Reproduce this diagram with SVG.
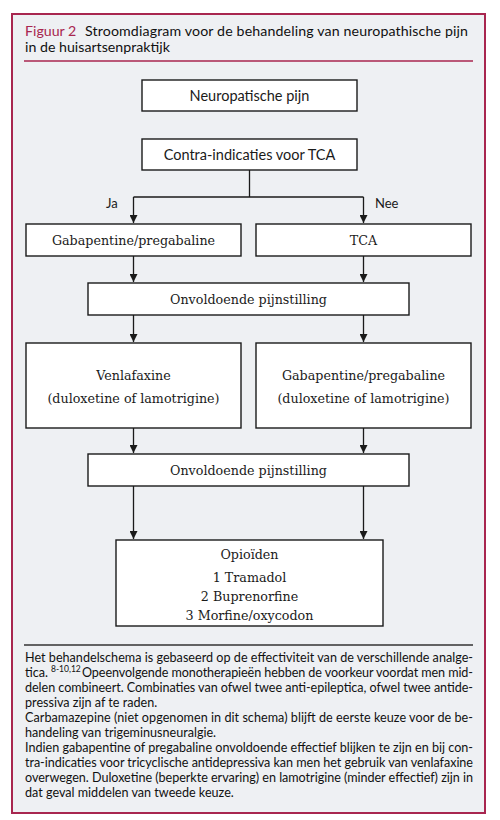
<svg xmlns="http://www.w3.org/2000/svg" width="500" height="820" viewBox="0 0 500 820">
<style>
.box{fill:#fff;stroke:#1a1a1a;stroke-width:1.4}
.bs{font-family:"Lato","Liberation Sans",sans-serif;font-size:14.5px;fill:#1a1a1a;text-anchor:middle}
.bt{font-family:"DejaVu Serif","Liberation Serif",serif;font-size:12.7px;fill:#1a1a1a;text-anchor:middle}
.lbl{font-family:"Lato","Liberation Sans",sans-serif;font-size:13px;fill:#1a1a1a}
.ft{font-family:"Lato","Liberation Sans",sans-serif;font-size:12.6px;fill:#111}
.ttl{font-family:"Lato","Liberation Sans",sans-serif;font-size:14.2px;fill:#111}
.conn{stroke:#1a1a1a;stroke-width:1.3;fill:none}
</style>
<defs>
<marker id="arr" viewBox="0 0 10 10" refX="10" refY="5" markerWidth="8" markerHeight="8" markerUnits="userSpaceOnUse" orient="auto">
<path d="M0,0 L10,5 L0,10 z" fill="#1a1a1a"/>
</marker>
</defs>
<rect x="0" y="0" width="500" height="820" fill="#fff"/>
<rect x="12" y="14" width="473" height="799" fill="#eef0f3" stroke="#a8264f" stroke-width="2"/>
<g id="title">
<text class="ttl" x="25" y="36" style="fill:#a8264f">Figuur 2</text>
<text class="ttl" x="85" y="36" textLength="383" lengthAdjust="spacing">Stroomdiagram voor de behandeling van neuropathische pijn</text>
<text class="ttl" x="25" y="52">in de huisartsenpraktijk</text>
<line x1="24" y1="61" x2="473" y2="61" stroke="#a8264f" stroke-width="1.5"/>
</g>
<g id="connectors">
<line class="conn" x1="249.5" y1="170" x2="249.5" y2="197"/>
<line class="conn" x1="133.5" y1="197" x2="363.5" y2="197"/>
<line class="conn" x1="133.5" y1="197" x2="133.5" y2="223" marker-end="url(#arr)"/>
<line class="conn" x1="363.5" y1="197" x2="363.5" y2="223" marker-end="url(#arr)"/>
<line class="conn" x1="133.5" y1="256" x2="133.5" y2="282" marker-end="url(#arr)"/>
<line class="conn" x1="363.5" y1="256" x2="363.5" y2="282" marker-end="url(#arr)"/>
<line class="conn" x1="133.5" y1="315" x2="133.5" y2="342" marker-end="url(#arr)"/>
<line class="conn" x1="363.5" y1="315" x2="363.5" y2="342" marker-end="url(#arr)"/>
<line class="conn" x1="133.5" y1="428" x2="133.5" y2="453" marker-end="url(#arr)"/>
<line class="conn" x1="363.5" y1="428" x2="363.5" y2="453" marker-end="url(#arr)"/>
<line class="conn" x1="133.5" y1="486" x2="133.5" y2="539" marker-end="url(#arr)"/>
<line class="conn" x1="363.5" y1="486" x2="363.5" y2="539" marker-end="url(#arr)"/>
<text class="lbl" x="106" y="208">Ja</text>
<text class="lbl" x="375" y="208">Nee</text>
</g>
<g id="n1"><rect class="box" x="142" y="80" width="215" height="31"/><text class="bs" x="249.5" y="100.5">Neuropatische pijn</text></g>
<g id="n2"><rect class="box" x="142" y="139" width="215" height="31"/><text class="bs" x="249.5" y="159.5">Contra-indicaties voor TCA</text></g>
<g id="n3"><rect class="box" x="26" y="224" width="215" height="32"/><text class="bt" x="133.5" y="245">Gabapentine/pregabaline</text></g>
<g id="n4"><rect class="box" x="256" y="224" width="215" height="32"/><text class="bt" x="363.5" y="245">TCA</text></g>
<g id="n5"><rect class="box" x="88" y="283" width="321" height="32"/><text class="bt" x="248.5" y="304">Onvoldoende pijnstilling</text></g>
<g id="n6"><rect class="box" x="26" y="343" width="215" height="85"/><text class="bt" x="133.5" y="379.5">Venlafaxine</text><text class="bt" x="133.5" y="402.5">(duloxetine of lamotrigine)</text></g>
<g id="n7"><rect class="box" x="256" y="343" width="215" height="85"/><text class="bt" x="363.5" y="379.5">Gabapentine/pregabaline</text><text class="bt" x="363.5" y="402.5">(duloxetine of lamotrigine)</text></g>
<g id="n8"><rect class="box" x="88" y="454" width="321" height="32"/><text class="bt" x="248.5" y="475">Onvoldoende pijnstilling</text></g>
<g id="n9"><rect class="box" x="116" y="540" width="267" height="86"/>
<text class="bt" x="249.5" y="558.5">Opioïden</text>
<text class="bt" x="249.5" y="582">1 Tramadol</text>
<text class="bt" x="249.5" y="601">2 Buprenorfine</text>
<text class="bt" x="249.5" y="620">3 Morfine/oxycodon</text></g>
<g id="footer">
<line x1="24" y1="645" x2="473" y2="645" stroke="#333" stroke-width="1.5"/>
<text class="ft" x="25" y="661.5" textLength="448" lengthAdjust="spacing">Het behandelschema is gebaseerd op de effectiviteit van de verschillende analge-</text>
<text class="ft" x="25" y="676.5">tica.</text>
<text class="ft" x="51" y="672" style="font-size:8.5px">8-10,12</text>
<text class="ft" x="82" y="676.5" textLength="391" lengthAdjust="spacing">Opeenvolgende monotherapieën hebben de voorkeur voordat men mid-</text>
<text class="ft" x="25" y="692" textLength="448" lengthAdjust="spacing">delen combineert. Combinaties van ofwel twee anti-epileptica, ofwel twee antide-</text>
<text class="ft" x="25" y="707">pressiva zijn af te raden.</text>
<text class="ft" x="25" y="722" textLength="448" lengthAdjust="spacing">Carbamazepine (niet opgenomen in dit schema) blijft de eerste keuze voor de be-</text>
<text class="ft" x="25" y="737">handeling van trigeminusneuralgie.</text>
<text class="ft" x="25" y="752" textLength="448" lengthAdjust="spacing">Indien gabapentine of pregabaline onvoldoende effectief blijken te zijn en bij con-</text>
<text class="ft" x="25" y="767" textLength="448" lengthAdjust="spacing">tra-indicaties voor tricyclische antidepressiva kan men het gebruik van venlafaxine</text>
<text class="ft" x="25" y="782" textLength="448" lengthAdjust="spacing">overwegen. Duloxetine (beperkte ervaring) en lamotrigine (minder effectief) zijn in</text>
<text class="ft" x="25" y="797">dat geval middelen van tweede keuze.</text>
</g>
</svg>
